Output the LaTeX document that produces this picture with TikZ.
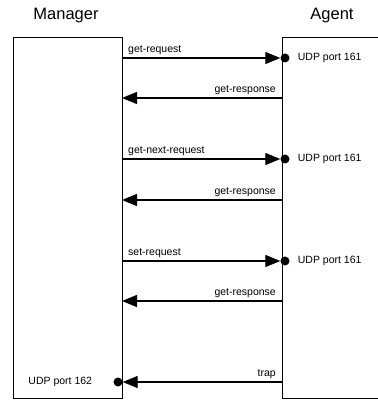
\documentclass[tikz,border=0pt]{standalone}
\usepackage{fontspec}
\setmainfont{Liberation Sans}
\usetikzlibrary{arrows.meta}

\begin{document}
\begin{tikzpicture}[x=1pt, y=-1pt,
  box/.style={draw, line width=0.9pt, inner sep=0pt},
  port/.style={circle, fill, inner sep=0pt, minimum size=9pt},
  msg/.style={-{Triangle[length=15pt,width=12pt]}, line width=1.3pt},
  lbl/.style={font=\fontsize{10.5}{12}\selectfont, inner sep=1pt},
  title/.style={font=\fontsize{16.5}{18}\selectfont}
]
\useasboundingbox (0,0) rectangle (377,403);
% titles
\node[title] (tmgr) at (66,16) {Manager};
\node[title] (tagt) at (332,16) {Agent};
% the two sides
\node[box, minimum width=109pt, minimum height=361pt] (mgr) at (67.5,217.5) {};
\node[box, minimum width=100pt, minimum height=361pt] (agt) at (332,217.5) {};
% requests to UDP port 161
\foreach \y/\t/\n in {58/get-request/1, 159/get-next-request/2, 261/set-request/3}{
  \node[port] (p\n) at (285,\y) {};
  \coordinate (r\n) at (122,\y);
  \draw[msg] (r\n) -- (p\n);
  \node[lbl, anchor=south west] (q\n) at ([xshift=5pt,yshift=2pt]r\n) {\t};
  \node[lbl, anchor=west] (u\n) at ([xshift=7pt]p\n.east) {UDP port 161};
}
% responses
\foreach \y/\n in {98/1, 200/2, 301/3}{
  \coordinate (a\n) at (282,\y);
  \coordinate (m\n) at (122,\y);
  \draw[msg] (a\n) -- (m\n);
  \node[lbl, anchor=south east] (g\n) at ([xshift=-5pt,yshift=2pt]a\n) {get-response};
}
% trap to UDP port 162
\node[port] (p4) at (118,382) {};
\coordinate (a4) at (282,382);
\draw[msg] (a4) -- (p4);
\node[lbl, anchor=south east] (tr) at ([xshift=-5pt,yshift=2pt]a4) {trap};
\node[lbl, anchor=east] (u4) at ([xshift=-20pt]p4.west) {UDP port 162};
\end{tikzpicture}
\end{document}
